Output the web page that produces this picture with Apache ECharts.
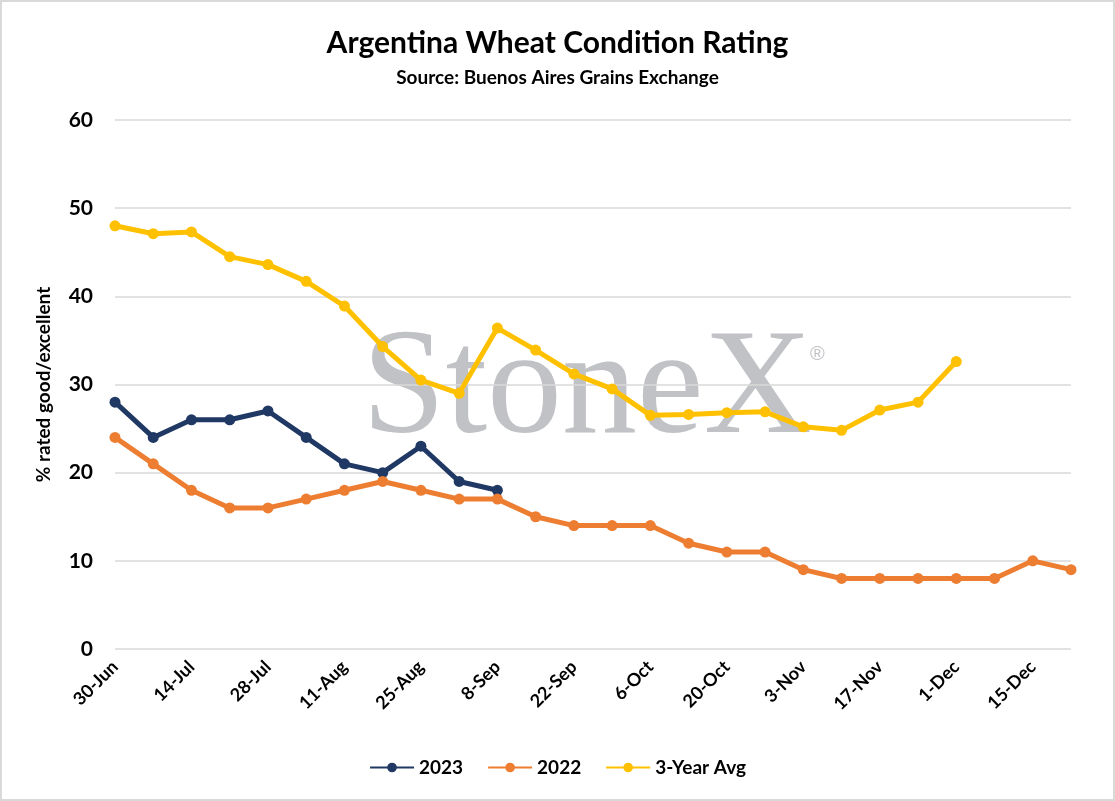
<!DOCTYPE html>
<html>
<head>
<meta charset="utf-8">
<script src="https://cdn.jsdelivr.net/npm/echarts@6/dist/echarts.min.js"></script>
<style>
    html, body { margin: 0; padding: 0; background: #fff; }
    #graph { width: 1115px; height: 801px; box-sizing: border-box; border: 2px solid #d9d9d9; }
</style>
</head>
<body>
<div id="graph"></div>
<script>
var weeks = ['30-Jun','7-Jul','14-Jul','21-Jul','28-Jul','4-Aug','11-Aug','18-Aug','25-Aug','1-Sep',
    '8-Sep','15-Sep','22-Sep','29-Sep','6-Oct','13-Oct','20-Oct','27-Oct','3-Nov','10-Nov',
    '17-Nov','24-Nov','1-Dec','8-Dec','15-Dec','22-Dec'];
var y2023 = [28, 24, 26, 26, 27, 24, 21, 20, 23, 19, 18];
var y2022 = [24, 21, 18, 16, 16, 17, 18, 19, 18, 17, 17, 15, 14, 14, 14, 12, 11, 11, 9, 8, 8, 8, 8, 8, 10, 9];
var avg3 = [48, 47.1, 47.3, 44.5, 43.6, 41.7, 38.9, 34.3, 30.5, 29.0, 36.4, 33.9, 31.2, 29.5, 26.5, 26.6, 26.8, 26.9, 25.2, 24.8, 27.1, 28.0, 32.6];

var font = 'Lato, "Open Sans", sans-serif';

function draw(){
    var dom = document.getElementById("graph");
    var myChart = echarts.init(dom);
    var mk = function(name, data, color){
        return {
            name: name,
            type: 'line',
            data: data,
            symbol: 'circle',
            symbolSize: 11,
            lineStyle: { width: 5, color: color },
            itemStyle: { color: color },
            z: 3
        };
    };
    var option = {
        animation: false,
        textStyle: { fontFamily: font },
        title: {
            text: 'Argentina Wheat Condition Rating',
            subtext: 'Source: Buenos Aires Grains Exchange',
            left: 'center',
            top: 21,
            itemGap: 10,
            textStyle: { fontSize: 30, fontWeight: 'bold', color: '#000', fontFamily: font },
            subtextStyle: { fontSize: 19, fontWeight: 'bold', color: '#000', fontFamily: font }
        },
        graphic: [
            {
                type: 'text', left: 360, top: 316, z: -10, silent: true,
                style: { text: 'StoneX', font: '150px "Liberation Serif", "DejaVu Serif", serif', fill: '#c1c2c5' }
            },
            {
                type: 'text', left: 808, top: 342, z: -10, silent: true,
                style: { text: '®', font: '20px "Liberation Sans", sans-serif', fill: '#c1c2c5' }
            }
        ],
        legend: {
            bottom: 17,
            left: 'center',
            itemWidth: 44,
            itemHeight: 12,
            itemGap: 24,
            textStyle: { fontSize: 19, fontWeight: 'bold', color: '#000', fontFamily: font },
            data: ['2023', '2022', '3-Year Avg']
        },
        grid: { left: 113, right: 42, top: 118, bottom: 150 },
        xAxis: {
            type: 'category',
            boundaryGap: false,
            data: weeks,
            axisLine: { show: false },
            axisTick: { show: false },
            axisLabel: {
                interval: 1,
                rotate: 45,
                margin: 15,
                fontSize: 18,
                fontWeight: 'bold',
                color: '#000'
            }
        },
        yAxis: {
            type: 'value',
            min: 0,
            max: 60,
            interval: 10,
            name: '% rated good/excellent',
            nameLocation: 'middle',
            nameGap: 62,
            nameTextStyle: { fontSize: 19, fontWeight: 'bold', color: '#000', fontFamily: font },
            axisLabel: { fontSize: 21, fontWeight: 'bold', color: '#000', margin: 22 },
            splitLine: { lineStyle: { color: '#d9d9d9', width: 1.5 } }
        },
        series: [
            mk('2023', y2023, '#203864'),
            mk('2022', y2022, '#ED7D31'),
            mk('3-Year Avg', avg3, '#FFC000')
        ]
    };
    myChart.setOption(option, true);
}
draw();
</script>
</body>
</html>
